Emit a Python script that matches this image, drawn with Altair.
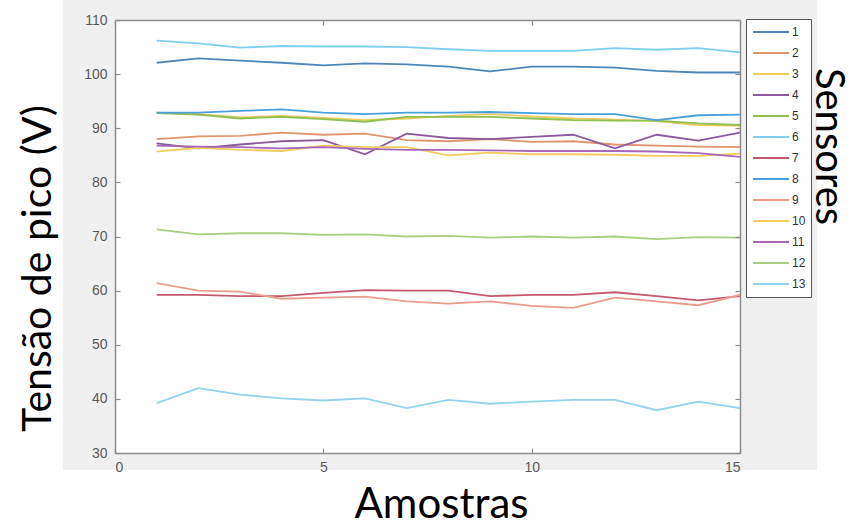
import altair as alt
import pandas as pd

amostras = list(range(1, 16))
sensores = [str(i) for i in range(1, 14)]

s1 = [102.1, 102.9, 102.5, 102.1, 101.6, 102.0, 101.8, 101.4, 100.5, 101.4, 101.4, 101.2, 100.6, 100.3, 100.3]
s2 = [88.0, 88.5, 88.6, 89.2, 88.8, 89.0, 87.8, 87.6, 88.0, 87.5, 87.6, 87.0, 86.8, 86.6, 86.5]
s3 = [92.9, 92.6, 92.0, 92.3, 91.9, 91.5, 91.8, 92.3, 92.6, 92.2, 91.8, 91.6, 91.3, 90.6, 90.5]
s4 = [87.2, 86.3, 87.0, 87.6, 87.8, 85.2, 89.0, 88.2, 88.0, 88.4, 88.8, 86.3, 88.8, 87.7, 89.2]
s5 = [92.8, 92.5, 91.8, 92.1, 91.7, 91.2, 92.1, 92.1, 92.1, 91.8, 91.5, 91.4, 91.4, 90.9, 90.6]
s6 = [106.2, 105.7, 104.9, 105.2, 105.1, 105.1, 105.0, 104.6, 104.3, 104.3, 104.3, 104.8, 104.5, 104.8, 104.0]
s7 = [59.2, 59.2, 59.0, 59.0, 59.6, 60.1, 60.0, 60.0, 59.0, 59.2, 59.2, 59.7, 59.0, 58.2, 59.0]
s8 = [92.9, 92.9, 93.2, 93.5, 92.9, 92.6, 92.9, 92.9, 93.0, 92.8, 92.6, 92.6, 91.5, 92.4, 92.5]
s9 = [61.4, 60.0, 59.8, 58.5, 58.7, 58.9, 58.0, 57.6, 58.0, 57.2, 56.8, 58.7, 58.0, 57.3, 59.2]
s10 = [85.7, 86.4, 86.0, 85.8, 86.8, 86.5, 86.5, 85.0, 85.5, 85.2, 85.2, 85.1, 84.9, 84.9, 85.3]
s11 = [86.8, 86.6, 86.5, 86.3, 86.5, 86.2, 86.0, 86.0, 85.9, 85.8, 85.8, 85.8, 85.7, 85.4, 84.7]
s12 = [71.3, 70.4, 70.6, 70.6, 70.3, 70.4, 70.0, 70.1, 69.8, 70.0, 69.8, 70.0, 69.5, 69.9, 69.8]
s13 = [39.2, 42.0, 40.8, 40.1, 39.7, 40.1, 38.3, 39.8, 39.1, 39.5, 39.8, 39.8, 37.9, 39.5, 38.3]

series = [s1, s2, s3, s4, s5, s6, s7, s8, s9, s10, s11, s12, s13]
cores = ["#4f86b8", "#e0956f", "#eec95c", "#8b5a9c", "#8fbf4f", "#7fd0ee", "#c45a6e",
         "#4aa0dc", "#eb9c8c", "#f2cd5e", "#a866b8", "#a9cf82", "#94d2ee"]

x_ticks = [0, 5, 10, 15]
y_ticks = [30, 40, 50, 60, 70, 80, 90, 100, 110]

rows = []
for name, vals in zip(sensores, series):
    for a, v in zip(amostras, vals):
        rows.append({"amostra": a, "tensao": v, "sensor": name})
df = pd.DataFrame(rows)

W, H = 625, 433
FRAME = "#8c8c8c"
LABEL = "#5a5a5a"

xs = alt.Scale(domain=[0, 15], nice=False, zero=False)
ys = alt.Scale(domain=[30, 110], nice=False, zero=False)

one = pd.DataFrame({"k": [0]})
bg = alt.Chart(one).mark_rect(color="#f0f0f0").encode(
    x=alt.value(-52), x2=alt.value(702), y=alt.value(-20), y2=alt.value(450))
plot_bg = alt.Chart(one).mark_rect(color="white").encode(
    x=alt.value(0), x2=alt.value(W), y=alt.value(0), y2=alt.value(H))

lines = alt.Chart(df).mark_line(strokeWidth=1.8).encode(
    x=alt.X("amostra:Q", scale=xs, axis=alt.Axis(
        values=x_ticks, format="d", orient="bottom", ticks=False, tickSize=0,
        domain=True, domainColor=FRAME, domainWidth=1.5, grid=False,
        labelFont="Liberation Sans", labelFontSize=14, labelColor=LABEL, labelPadding=7,
        title="Amostras", titleFont="Lato", titleFontSize=42, titleFontWeight="normal",
        titleColor="black", titleX=326, titleY=64, titleAlign="center",
        titleBaseline="alphabetic", zindex=1)),
    y=alt.Y("tensao:Q", scale=ys, axis=alt.Axis(
        values=y_ticks, format="d", orient="left", ticks=False, tickSize=0,
        domain=True, domainColor=FRAME, domainWidth=1.5, grid=False,
        labelFont="Liberation Sans", labelFontSize=14, labelColor=LABEL, labelPadding=8,
        title="Tensão de pico (V)", titleFont="Lato", titleFontSize=41,
        titleFontWeight="normal", titleColor="black", titleAngle=270,
        titleX=-65, titleY=248, titleAlign="center", titleBaseline="alphabetic",
        zindex=1)),
    color=alt.Color("sensor:N", scale=alt.Scale(domain=sensores, range=cores),
                    legend=alt.Legend(
                        orient="none", legendX=631, legendY=-1, title=None,
                        symbolType="stroke", symbolSize=1296, symbolStrokeWidth=2,
                        clipHeight=16, rowPadding=5, padding=5, symbolOffset=1,
                        labelOffset=2, labelFont="Liberation Sans", labelFontSize=12,
                        labelColor="#333333", fillColor="white", strokeColor="#555555",
                        zindex=1)),
)

ticks_bl = alt.Chart(df).mark_line(opacity=0).encode(
    x=alt.X("amostra:Q", scale=xs, axis=alt.Axis(
        values=x_ticks, orient="bottom", offset=-5, domain=False, labels=False,
        ticks=True, tickSize=5, tickColor=FRAME, tickWidth=1.2, grid=False,
        title=None, zindex=1)),
    y=alt.Y("tensao:Q", scale=ys, axis=alt.Axis(
        values=y_ticks, orient="left", offset=-5, domain=False, labels=False,
        ticks=True, tickSize=5, tickColor=FRAME, tickWidth=1.2, grid=False,
        title=None, zindex=1)),
    detail="sensor:N",
)

ticks_tr = alt.Chart(df).mark_line(opacity=0).encode(
    x=alt.X("amostra:Q", scale=xs, axis=alt.Axis(
        values=x_ticks, orient="top", offset=-5, domain=False, labels=False,
        ticks=True, tickSize=5, tickColor=FRAME, tickWidth=1.2, grid=False,
        title=None, zindex=1)),
    y=alt.Y("tensao:Q", scale=ys, axis=alt.Axis(
        values=y_ticks, orient="right", offset=-5, domain=False, labels=False,
        ticks=True, tickSize=5, tickColor=FRAME, tickWidth=1.2, grid=False,
        title=None, zindex=1)),
    detail="sensor:N",
)

frame_tr = alt.Chart(df).mark_line(opacity=0).encode(
    x=alt.X("amostra:Q", scale=xs, axis=alt.Axis(
        orient="top", domain=True, domainColor=FRAME, domainWidth=1.5,
        labels=False, ticks=False, grid=False, title=None, zindex=1)),
    y=alt.Y("tensao:Q", scale=ys, axis=alt.Axis(
        orient="right", domain=True, domainColor=FRAME, domainWidth=1.5,
        labels=False, ticks=False, grid=False,
        title="Sensores", titleFont="Lato", titleFontSize=40, titleFontWeight="normal",
        titleColor="black", titleAngle=90, titleX=75, titleY=126,
        titleAlign="center", titleBaseline="alphabetic", zindex=1)),
    detail="sensor:N",
)

chart = alt.layer(bg, plot_bg, lines, ticks_bl, ticks_tr, frame_tr).resolve_axis(
    x="independent", y="independent"
).properties(
    width=W, height=H,
    autosize=alt.AutoSizeParams(type="none"),
    padding={"left": 115, "top": 20, "right": 114, "bottom": 72},
).configure_view(stroke="transparent")

chart.save("out.html", embed_options={"renderer": "svg", "actions": False})
